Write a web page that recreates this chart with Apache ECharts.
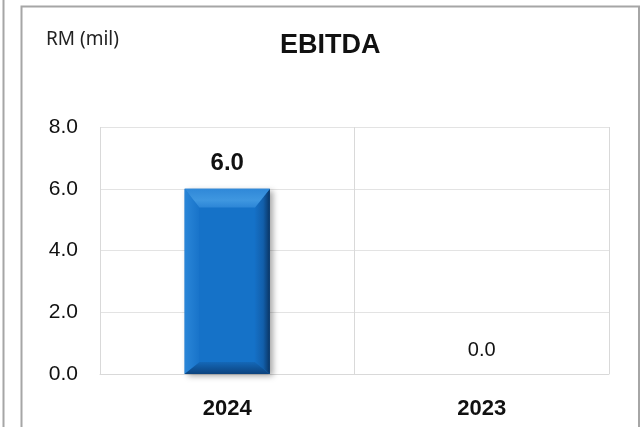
<!DOCTYPE html>
<html>
<head>
<meta charset="utf-8">
<script src="https://cdn.jsdelivr.net/npm/echarts@6/dist/echarts.min.js"></script>
<style>
  html, body { margin: 0; padding: 0; background: #ffffff; }
  #chart { width: 641px; height: 427px; }
</style>
</head>
<body>
<div id="chart"></div>
<script>
// EBITDA by year, RM million
const categories = ['2024', '2023'];
const ebitda = [6.0, 0.0];
const yTicks = [0, 2, 4, 6, 8];

const chart = echarts.init(document.getElementById('chart'), null, { renderer: 'canvas' });

const FONT = '"Liberation Sans", Arial, sans-serif';

// Bevelled column: a flat face framed by four shaded facets
function renderBevelBar(params, api) {
  const idx = api.value(0);
  const val = api.value(1);
  const top = api.coord([idx, val]);
  const base = api.coord([idx, 0]);
  const bandW = api.size([1, 0])[0];
  const w = bandW * 0.335;
  const x0 = top[0] - w / 2;
  const x1 = top[0] + w / 2;
  const y0 = top[1];
  const yb = base[1];
  const h = yb - y0;
  const children = [];

  if (h > 1) {
    const bt = Math.min(19, h * 0.3);
    const bs = 15;
    const bb = Math.min(12, h * 0.2);
    const ix0 = x0 + bs, ix1 = x1 - bs, iy0 = y0 + bt, iyb = yb - bb;
    // shadow behind
    children.push({
      type: 'rect',
      shape: { x: x0, y: y0, width: w, height: h },
      style: { fill: '#1570c6', shadowBlur: 6, shadowOffsetX: 3, shadowOffsetY: 2, shadowColor: 'rgba(0,0,0,0.35)' }
    });
    // left facet
    children.push({
      type: 'polygon',
      shape: { points: [[x0, y0], [ix0, iy0], [ix0, iyb], [x0, yb]] },
      style: { fill: new echarts.graphic.LinearGradient(0, 0, 1, 0, [
        { offset: 0, color: '#2a86d8' }, { offset: 1, color: '#1873c9' }]) }
    });
    // right facet
    children.push({
      type: 'polygon',
      shape: { points: [[x1, y0], [x1, yb], [ix1, iyb], [ix1, iy0]] },
      style: { fill: new echarts.graphic.LinearGradient(0, 0, 1, 0, [
        { offset: 0, color: '#1570c6' }, { offset: 0.55, color: '#125fab' }, { offset: 1, color: '#0a3564' }]) }
    });
    // bottom facet
    children.push({
      type: 'polygon',
      shape: { points: [[x0, yb], [ix0, iyb], [ix1, iyb], [x1, yb]] },
      style: { fill: new echarts.graphic.LinearGradient(0, 0, 0, 1, [
        { offset: 0, color: '#1468b8' }, { offset: 1, color: '#0c437e' }]) }
    });
    // top facet
    children.push({
      type: 'polygon',
      shape: { points: [[x0, y0], [x1, y0], [ix1, iy0], [ix0, iy0]] },
      style: { fill: new echarts.graphic.LinearGradient(0, 0, 0, 1, [
        { offset: 0, color: '#2f88d8' }, { offset: 0.6, color: '#3f97e0' }, { offset: 1, color: '#2b85d6' }]) }
    });
    // flat face
    children.push({
      type: 'rect',
      shape: { x: ix0, y: iy0, width: ix1 - ix0, height: iyb - iy0 },
      style: { fill: '#1572c8' }
    });
  }

  // value label above the column
  const big = val > 0;
  children.push({
    type: 'text',
    x: top[0],
    y: y0 - (big ? 25 : 24),
    style: {
      text: val.toFixed(1),
      fill: '#111111',
      font: (big ? 'bold 24px ' : 'normal 20px ') + FONT,
      align: 'center',
      verticalAlign: 'middle'
    }
  });

  return { type: 'group', children: children };
}

chart.setOption({
  animation: false,
  backgroundColor: '#ffffff',
  graphic: [
    { type: 'line', shape: { x1: 3.5, y1: 0, x2: 3.5, y2: 427 }, style: { stroke: '#a6a6a6', lineWidth: 2 } },
    { type: 'polyline', shape: { points: [[21.5, 427], [21.5, 6.5], [639, 6.5], [639, 427]] }, style: { fill: null, stroke: '#a6a6a6', lineWidth: 2 } },
    { type: 'text', left: 46, top: 30, style: { text: 'RM (mil)', font: 'normal 19px "Noto Sans", sans-serif', fill: '#222222' } },
    { type: 'text', left: 280, top: 32, style: { text: 'EBITDA', font: 'bold 27px ' + FONT, fill: '#111111' } }
  ],
  grid: { left: 100, right: 32, top: 127, bottom: 53 },
  xAxis: {
    type: 'category',
    data: categories,
    axisLine: { show: true, lineStyle: { color: '#d9d9d9', width: 1 } },
    axisTick: { show: false },
    splitLine: { show: true, lineStyle: { color: '#d9d9d9', width: 1 } },
    axisLabel: { color: '#111111', fontFamily: FONT, fontSize: 22, fontWeight: 'bold', margin: 24 }
  },
  yAxis: {
    type: 'value',
    min: yTicks[0],
    max: yTicks[yTicks.length - 1],
    interval: yTicks[1] - yTicks[0],
    axisLine: { show: false },
    axisTick: { show: false },
    splitLine: { show: true, lineStyle: { color: '#e3e3e3', width: 1 } },
    axisLabel: { color: '#111111', fontFamily: FONT, fontSize: 21, margin: 22, formatter: v => v.toFixed(1) }
  },
  series: [{
    type: 'custom',
    renderItem: renderBevelBar,
    encode: { x: 0, y: 1 },
    data: categories.map((c, i) => [i, ebitda[i]]),
    clip: false
  }]
});
</script>
</body>
</html>
